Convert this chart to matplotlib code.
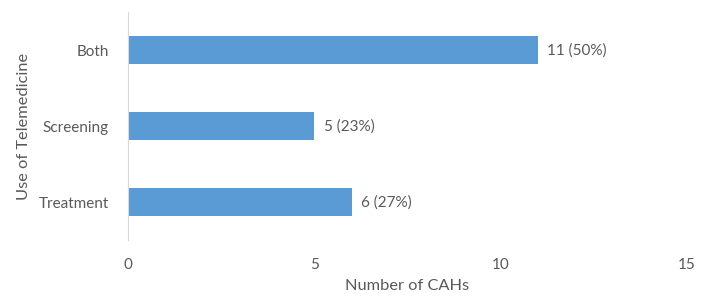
import matplotlib
matplotlib.use("Agg")
import matplotlib.pyplot as plt

categories = ["Treatment", "Screening", "Both"]
values = [6, 5, 11]
labels = ["6 (27%)", "5 (23%)", "11 (50%)"]
xticks = [0, 5, 10, 15]

plt.rcParams['font.family'] = ['Lato', 'DejaVu Sans']
txt = '#595959'

fig = plt.figure(figsize=(7.15, 2.96), dpi=100)
ax = fig.add_axes([0.179, 0.189, 0.782, 0.770])
y = list(range(len(categories)))
ax.barh(y, values, height=0.36, color='#5B9BD5')
for yi, v, l in zip(y, values, labels):
    ax.text(v + 0.25, yi, l, va='center', ha='left', fontsize=11, color=txt)
ax.set_xlim(0, 15)
ax.set_ylim(-0.5, 2.5)
ax.set_yticks(y)
ax.set_yticklabels(categories)
ax.set_xticks(xticks)
ax.tick_params(axis='both', length=0, labelsize=11, labelcolor=txt)
ax.tick_params(axis='x', pad=13)
ax.tick_params(axis='y', pad=14)
for s in ['top', 'right', 'bottom']:
    ax.spines[s].set_visible(False)
ax.spines['left'].set_color('#D9D9D9')
ax.set_xlabel('Number of CAHs', fontsize=11.8, color=txt, labelpad=5)
ax.set_ylabel('Use of Telemedicine', fontsize=11.8, color=txt, labelpad=5)
fig.savefig('out.png', dpi=100)
